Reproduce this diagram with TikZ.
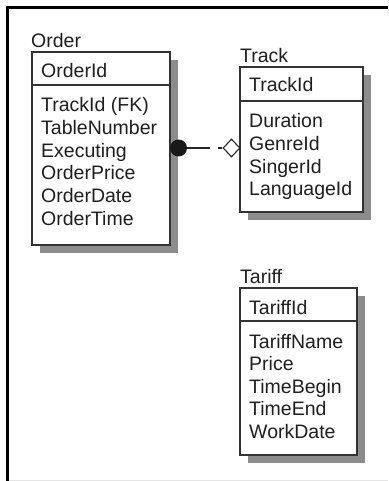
\documentclass[tikz,border=0pt]{standalone}
\usepackage{fontspec}
\setmainfont{Liberation Sans}
\usetikzlibrary{shapes.geometric}

\tikzset{
  lbl/.style={inner sep=0pt, anchor=base west, text=black!88,
    font=\fontsize{19.5}{22}\selectfont},
  entbox/.style={draw=black!80, line width=1.2pt, fill=white, anchor=north west,
    inner sep=0pt, outer sep=0pt},
  shadowfill/.style={fill=black!45},
  relline/.style={draw=black!85, line width=1.3pt},
}

\begin{document}
\begin{tikzpicture}[x=1pt, y=-1pt]
  \useasboundingbox (0,0) rectangle (388,481);
  \fill[white] (0,0) rectangle (388,481);

  % outer frame (left and top thick rules, faint bottom rule)
  \draw[line width=3.3pt, black] (7.5,481) -- (7.5,7.5) -- (388,7.5);
  \draw[line width=0.8pt, black!10] (9,480.5) -- (388,480.5);

  % ---------- Order ----------
  \path (32,52) node[minimum width=138pt, minimum height=193pt, anchor=north west, inner sep=0pt] (orderFrame) {};
  \fill[shadowfill] ([shift={(8,8)}]orderFrame.north west) rectangle ([shift={(8,8)}]orderFrame.south east);
  \node[entbox, minimum width=138pt, minimum height=193pt] (orderBox) at (32,52) {};
  \node[entbox, minimum width=138pt, minimum height=33pt, fill=none] (orderKey) at (32,52) {};
  \node[lbl] (orderTitle) at (31,48) {Order};
  \node[lbl] (orderId) at (41,78) {OrderId};
  \foreach \t [count=\i] in {TrackId (FK), TableNumber, Executing, OrderPrice, OrderDate, OrderTime}
    \node[lbl] (orderAttr\i) at (41,{112+(\i-1)*22.6}) {\t};

  % ---------- Track ----------
  \path (240,67) node[minimum width=123pt, minimum height=145pt, anchor=north west, inner sep=0pt] (trackFrame) {};
  \fill[shadowfill] ([shift={(8,8)}]trackFrame.north west) rectangle ([shift={(8,8)}]trackFrame.south east);
  \node[entbox, minimum width=123pt, minimum height=145pt] (trackBox) at (240,67) {};
  \node[entbox, minimum width=123pt, minimum height=34pt, fill=none] (trackKey) at (240,67) {};
  \node[lbl] (trackTitle) at (240,63) {Track};
  \node[lbl] (trackId) at (249,92) {TrackId};
  \foreach \t [count=\i] in {Duration, GenreId, SingerId, LanguageId}
    \node[lbl] (trackAttr\i) at (249,{128+(\i-1)*22.6}) {\t};

  % ---------- Tariff ----------
  \path (240,288) node[minimum width=117pt, minimum height=167pt, anchor=north west, inner sep=0pt] (tariffFrame) {};
  \fill[shadowfill] ([shift={(8,8)}]tariffFrame.north west) rectangle ([shift={(8,8)}]tariffFrame.south east);
  \node[entbox, minimum width=117pt, minimum height=167pt] (tariffBox) at (240,288) {};
  \node[entbox, minimum width=117pt, minimum height=33pt, fill=none] (tariffKey) at (240,288) {};
  \node[lbl] (tariffTitle) at (240,283) {Tariff};
  \node[lbl] (tariffId) at (249,314) {TariffId};
  \foreach \t [count=\i] in {TariffName, Price, TimeBegin, TimeEnd, WorkDate}
    \node[lbl] (tariffAttr\i) at (249,{348+(\i-1)*22.6}) {\t};

  % ---------- relationship Order -- Track ----------
  \node[circle, fill=black!90, draw=none, minimum size=17pt, inner sep=0pt] (dotEnd) at (178.5,148) {};
  \node[diamond, draw=black!85, line width=1.1pt, fill=white, minimum width=17pt, minimum height=18pt, inner sep=0pt] (diaEnd) at (231.5,148) {};
  \draw[relline, dash pattern=on 23pt off 8pt on 30pt] (dotEnd.east) -- (diaEnd.west);
\end{tikzpicture}
\end{document}
